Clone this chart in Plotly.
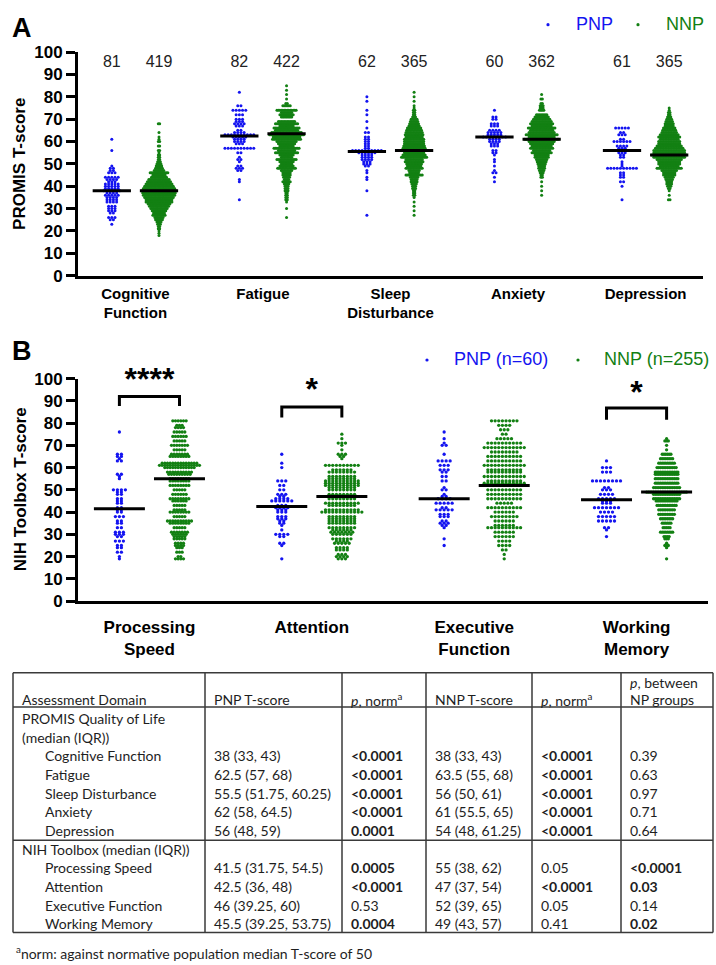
import plotly.graph_objects as go

W, H = 716, 965
FONT = "Liberation Sans, Arial, sans-serif"
TFONT = "Lato, Carlito, Calibri, sans-serif"
BLUE = "#1414f0"
GREEN = "#138013"

# ---------------- Panel A : PROMIS ----------------
promis_domains = ["Cognitive<br>Function", "Fatigue", "Sleep<br>Disturbance", "Anxiety", "Depression"]
promis_n_pnp = [81, 82, 62, 60, 61]
promis_n_nnp = [419, 422, 365, 362, 365]
promis_median_pnp = [38, 62.5, 55.5, 62, 56]
promis_median_nnp = [38, 63.5, 56, 61, 54]

# (T-score, number of participants)
cog_pnp = [(61,1),(56,1),(49,1),(48,2),(47,2),(46,3),(44,5),(43,4),(42,3),(41,5),(40,5),(39,5),(38,6),(37,4),
           (36,5),(35,4),(34,4),(33,4),(31,3),(30,3),(29,3),(28,2),(26,3),(25,2),(23,1)]
cog_nnp = [(68,2),(64,1),(62,1),(61,1),(60,2),(58,2),(56,2),(55,1),(54,2),(53,2),(52,2),(51,3),(50,4),(49,5),
           (48,6),(47,8),(46,14),(45,10),(44,12),(43,16),(42,18),(41,20),(40,22),(39,24),(38,26),(37,25),(36,24),
           (35,22),(34,20),(33,20),(32,17),(31,15),(30,13),(29,11),(28,9),(27,10),(26,7),(25,6),(24,4),(23,3),
           (22,2),(21,2),(20,1),(19,1),(18,1)]
fat_pnp = [(82,1),(76,2),(74,5),(72,3),(70,3),(69,3),(68,4),(67,3),(65,2),(64,4),(63,10),(62,5),(61,4),(60,4),
           (59,3),(57,10),(55,2),(53,1),(52,2),(51,1),(49,2),(48,3),(47,2),(43,1),(42,1),(34,1)]
fat_nnp = [(85,1),(83,1),(81,1),(79,1),(77,2),(76,6),(74,14),(73,8),(72,10),(71,8),(69,12),(68,16),(67,10),
           (66,18),(65,16),(64,21),(63,24),(62,19),(61,20),(60,14),(59,12),(58,10),(57,18),(56,12),(55,16),
           (54,10),(53,8),(52,14),(51,10),(50,8),(49,10),(48,13),(47,8),(46,6),(45,6),(44,5),(43,4),(42,6),
           (41,4),(40,3),(39,3),(38,3),(37,2),(36,2),(35,2),(34,2),(33,1),(30,1),(26,1)]
slp_pnp = [(80,1),(78,1),(74,1),(72,1),(69,1),(66,1),(64,2),(62,2),(61,2),(60,2),(59,2),(58,2),(57,2),(56,10),
           (55,6),(54,4),(53,4),(52,4),(51,3),(50,3),(49,2),(47,1),(46,1),(44,1),(43,1),(38,1),(27,1)]
slp_nnp = [(82,1),(80,1),(78,1),(76,1),(75,1),(74,2),(73,2),(72,2),(71,3),(70,5),(69,6),(68,7),(67,8),(66,10),
           (65,11),(64,12),(63,13),(62,12),(61,14),(60,14),(59,14),(58,15),(57,16),(56,24),(55,14),(54,16),
           (53,18),(52,12),(51,13),(50,11),(49,10),(48,12),(47,8),(46,7),(45,12),(44,6),(43,5),(42,5),(41,4),
           (40,3),(39,3),(38,2),(37,2),(36,2),(35,1),(33,1),(31,1),(29,1),(27,1)]
anx_pnp = [(74,1),(71,2),(70,2),(68,3),(67,3),(65,4),(64,5),(63,5),(62,8),(61,4),(60,4),(59,3),(58,3),(56,2),
           (55,2),(54,1),(52,1),(51,1),(49,1),(47,1),(46,2),(44,1),(42,1)]
anx_nnp = [(81,1),(79,2),(77,2),(76,3),(75,3),(74,4),(72,8),(71,10),(70,12),(69,14),(68,16),(67,14),(66,19),
           (65,16),(64,18),(63,22),(62,18),(61,24),(60,18),(59,16),(58,14),(57,16),(56,12),(55,14),(54,10),
           (53,10),(52,8),(51,7),(50,6),(49,5),(48,5),(47,4),(46,3),(45,2),(44,2),(42,1),(40,1),(38,1),(36,1)]
dep_pnp = [(66,5),(64,2),(63,3),(61,2),(60,6),(58,4),(57,3),(56,6),(55,3),(54,2),(53,2),(51,1),(50,1),(49,1),
           (48,10),(46,2),(45,2),(44,2),(42,2),(40,1),(34,1)]
dep_nnp = [(75,1),(74,1),(73,2),(72,2),(71,3),(70,4),(69,5),(68,6),(67,6),(66,8),(65,9),(64,10),(63,12),(62,14),
           (61,12),(60,14),(59,14),(58,16),(57,18),(56,20),(55,20),(54,22),(53,20),(52,16),(51,14),(50,14),
           (49,12),(48,16),(47,10),(46,8),(45,8),(44,6),(43,5),(42,4),(41,4),(40,3),(39,2),(38,1),(36,1),(34,2)]
promis_pnp = [cog_pnp, fat_pnp, slp_pnp, anx_pnp, dep_pnp]
promis_nnp = [cog_nnp, fat_nnp, slp_nnp, anx_nnp, dep_nnp]

# ---------------- Panel B : NIH Toolbox ----------------
nih_domains = ["Processing<br>Speed", "Attention", "Executive<br>Function", "Working<br>Memory"]
nih_median_pnp = [41.5, 42.5, 46, 45.5]
nih_median_nnp = [55, 47, 52, 49]
nih_sig = ["****", "*", "", "*"]
nih_bracket_top = [92, 87.2, None, 86.8]
nih_bracket_leg = [87.7, 82.5, None, 81.5]
nih_star_y = [98.5, 93.8, None, 92.5]

ps_pnp = [(76,1),(66,2),(65,2),(64,1),(63,2),(57,2),(56,1),(55,1),(50,4),(49,2),(48,2),(46,2),(45,2),(44,2),
          (42,2),(41,2),(40,2),(38,3),(36,2),(35,2),(33,2),(31,3),(30,3),(29,2),(27,3),(25,2),(24,2),(22,2),
          (20,1),(19,1)]
ps_nnp = [(81,6),(79,3),(78,4),(76,5),(74,6),(72,5),(70,7),(68,5),(66,7),(65,8),(62,14),(61,16),(60,12),(58,10),
          (57,9),(55,8),(54,8),(52,8),(50,5),(48,6),(46,8),(45,6),(43,5),(41,5),(40,8),(38,5),(36,10),(35,8),
          (33,5),(31,7),(30,6),(29,5),(28,5),(26,4),(25,4),(24,3),(22,3),(20,2),(19,4)]
att_pnp = [(66,1),(62,1),(60,1),(54,3),(52,2),(50,2),(48,3),(47,2),(46,4),(45,6),(43,3),(42,4),(41,3),(40,3),
           (38,3),(37,3),(36,2),(35,2),(34,1),(32,1),(30,4),(29,2),(26,2),(25,1),(19,1)]
att_nnp = [(75,1),(73,1),(71,3),(70,1),(68,1),(66,3),(65,2),(64,1),(61,10),(59,6),(58,8),(56,8),(55,8),(54,10),
           (53,10),(52,10),(51,8),(50,8),(48,8),(47,8),(46,8),(44,10),(43,8),(41,10),(40,12),(38,8),(37,8),
           (36,8),(35,8),(33,8),(32,6),(31,7),(30,6),(28,6),(27,4),(26,5),(24,4),(23,4),(21,3),(20,4),(19,3)]
exe_pnp = [(76,1),(73,1),(71,1),(70,2),(66,1),(63,4),(61,3),(59,3),(58,2),(56,2),(54,2),(51,1),(50,2),(48,1),
           (47,2),(46,4),(44,5),(42,2),(41,5),(39,3),(38,3),(36,2),(35,3),(34,2),(33,1),(28,1),(25,1)]
exe_nnp = [(81,8),(79,4),(77,3),(75,2),(73,5),(71,10),(69,12),(67,8),(65,10),(63,10),(61,12),(59,10),(58,10),
           (56,12),(54,10),(53,12),(52,12),(50,10),(48,10),(46,10),(44,5),(42,10),(40,6),(38,8),(36,6),(34,6),
           (33,10),(31,6),(29,6),(27,4),(25,4),(23,2),(21,1),(19,1)]
wm_pnp = [(63,1),(60,3),(58,3),(54,8),(51,2),(50,3),(48,4),(46,5),(45,3),(44,3),(42,7),(40,4),(38,5),(36,5),
          (33,2),(32,1),(29,1)]
wm_nnp = [(73,1),(72,3),(70,1),(68,1),(66,6),(64,8),(62,10),(60,12),(58,14),(57,14),(55,14),(53,14),(51,16),
          (49,24),(48,16),(46,16),(45,13),(43,12),(41,10),(39,10),(37,8),(35,6),(33,5),(31,8),(29,4),(28,3),
          (26,1),(25,3),(24,1),(19,1)]
nih_pnp = [ps_pnp, att_pnp, exe_pnp, wm_pnp]
nih_nnp = [ps_nnp, att_nnp, exe_nnp, wm_nnp]

# ---------------- Table ----------------
table_header = ["Assessment Domain", "PNP T-score", "<i>p</i>, norm<sup>a</sup>", "NNP T-score",
                "<i>p</i>, norm<sup>a</sup>", "<i>p</i>, between<br>NP groups"]
promis_section = "PROMIS Quality of Life<br>(median (IQR))"
promis_rows = ["Cognitive Function", "Fatigue", "Sleep Disturbance", "Anxiety", "Depression"]
promis_pnp_iqr = ["38 (33, 43)", "62.5 (57, 68)", "55.5 (51.75, 60.25)", "62 (58, 64.5)", "56 (48, 59)"]
promis_p_norm_pnp = ["<0.0001", "<0.0001", "<0.0001", "<0.0001", "0.0001"]
promis_nnp_iqr = ["38 (33, 43)", "63.5 (55, 68)", "56 (50, 61)", "61 (55.5, 65)", "54 (48, 61.25)"]
promis_p_norm_nnp = ["<0.0001", "<0.0001", "<0.0001", "<0.0001", "<0.0001"]
promis_p_between = ["0.39", "0.63", "0.97", "0.71", "0.64"]
nih_section = "NIH Toolbox (median (IQR))"
nih_rows = ["Processing Speed", "Attention", "Executive Function", "Working Memory"]
nih_pnp_iqr = ["41.5 (31.75, 54.5)", "42.5 (36, 48)", "46 (39.25, 60)", "45.5 (39.25, 53.75)"]
nih_p_norm_pnp = ["0.0005", "<0.0001", "0.53", "0.0004"]
nih_nnp_iqr = ["55 (38, 62)", "47 (37, 54)", "52 (39, 65)", "49 (43, 57)"]
nih_p_norm_nnp = ["0.05", "<0.0001", "0.05", "0.41"]
nih_p_between = ["<0.0001", "0.03", "0.14", "0.02"]
footnote = "<sup>a</sup>norm: against normative population median T-score of 50"


def px(x):
    return x / W


def py(y):
    return 1 - y / H


def swarm(center, dist, step, maxw):
    maxn = max(c for _, c in dist)
    d = step if maxn <= 1 else min(step, maxw / (maxn - 1))
    xs, ys = [], []
    for s, c in dist:
        for i in range(c):
            xs.append(center + (i - (c - 1) / 2) * d)
            ys.append(s)
    return xs, ys


fig = go.Figure()
OFF = 0.185

# ---- Panel A traces
A_PPU = (703 - 78) / (5.45 - 0.55)
for dists, sign, color, maxw in [(promis_pnp, -1, BLUE, 40), (promis_nnp, 1, GREEN, 34)]:
    X, Y = [], []
    for k, dist in enumerate(dists):
        xs, ys = swarm(k + 1 + sign * OFF, dist, 3.2 / A_PPU, maxw / A_PPU)
        X += xs
        Y += ys
    fig.add_trace(go.Scatter(x=X, y=Y, mode="markers", xaxis="x", yaxis="y",
                             marker=dict(size=3, color=color, line=dict(width=0)), hoverinfo="skip"))
for k in range(5):
    for sign, med in [(-1, promis_median_pnp[k]), (1, promis_median_nnp[k])]:
        c = k + 1 + sign * OFF
        fig.add_trace(go.Scatter(x=[c - 0.15, c + 0.15], y=[med, med], mode="lines", xaxis="x", yaxis="y",
                                 line=dict(color="black", width=3), hoverinfo="skip"))
fig.add_trace(go.Scatter(
    x=[k + 1 - OFF for k in range(5)] + [k + 1 + OFF for k in range(5)], y=[95] * 10,
    text=[str(n) for n in promis_n_pnp + promis_n_nnp], mode="text", xaxis="x", yaxis="y",
    textfont=dict(family=FONT, size=16, color="#222"), cliponaxis=False, hoverinfo="skip"))

# ---- Panel B traces
B_PPU = (708 - 78) / (4.44 - 0.56)
for dists, sign, color in [(nih_pnp, -1, BLUE), (nih_nnp, 1, GREEN)]:
    X, Y = [], []
    for k, dist in enumerate(dists):
        xs, ys = swarm(k + 1 + sign * OFF, dist, 4.0 / B_PPU, 40 / B_PPU)
        X += xs
        Y += ys
    fig.add_trace(go.Scatter(x=X, y=Y, mode="markers", xaxis="x2", yaxis="y2",
                             marker=dict(size=3.3, color=color, line=dict(width=0)), hoverinfo="skip"))
for k in range(4):
    for sign, med in [(-1, nih_median_pnp[k]), (1, nih_median_nnp[k])]:
        c = k + 1 + sign * OFF
        fig.add_trace(go.Scatter(x=[c - 0.157, c + 0.157], y=[med, med], mode="lines", xaxis="x2", yaxis="y2",
                                 line=dict(color="black", width=3), hoverinfo="skip"))
    if nih_sig[k]:
        a, b = k + 1 - OFF, k + 1 + OFF
        fig.add_trace(go.Scatter(x=[a, a, b, b],
                                 y=[nih_bracket_leg[k], nih_bracket_top[k], nih_bracket_top[k], nih_bracket_leg[k]],
                                 mode="lines", xaxis="x2", yaxis="y2", line=dict(color="black", width=3),
                                 cliponaxis=False, hoverinfo="skip"))
        fig.add_trace(go.Scatter(x=[k + 1], y=[nih_star_y[k]], text=[nih_sig[k]], mode="text",
                                 xaxis="x2", yaxis="y2", cliponaxis=False, hoverinfo="skip",
                                 textfont=dict(family=FONT, size=32, color="black", weight="bold")))

axis_common = dict(showline=True, linecolor="black", linewidth=3, showgrid=False, zeroline=False,
                   fixedrange=True)
fig.update_layout(
    width=W, height=H, autosize=False, margin=dict(l=0, r=0, t=0, b=0),
    paper_bgcolor="white", plot_bgcolor="white", showlegend=False,
    xaxis=dict(domain=[px(78), px(703)], range=[0.55, 5.45], anchor="y", tickvals=[1, 2, 3, 4, 5],
               ticktext=promis_domains, ticks="", ticklabelstandoff=2,
               tickfont=dict(family=FONT, size=15, color="black", weight="bold"), **axis_common),
    yaxis=dict(domain=[py(272), py(44)], range=[0, 100], anchor="x", tickvals=list(range(0, 101, 10)),
               ticks="outside", ticklen=9, tickwidth=3, tickcolor="black",
               tickfont=dict(family=FONT, size=17, color="black", weight="bold"), **axis_common),
    xaxis2=dict(domain=[px(78), px(708)], range=[0.56, 4.44], anchor="y2", tickvals=[1, 2, 3, 4],
                ticktext=nih_domains, ticks="", ticklabelstandoff=8,
                tickfont=dict(family=FONT, size=17, color="black", weight="bold"), **axis_common),
    yaxis2=dict(domain=[py(604), py(377)], range=[0, 100], anchor="x2", tickvals=list(range(0, 101, 10)),
                ticks="outside", ticklen=9, tickwidth=3, tickcolor="black",
                tickfont=dict(family=FONT, size=17, color="black", weight="bold"), **axis_common),
)

ann = []
shapes = []


def text(x, y, s, size, color="black", family=FONT, bold=False, xanchor="left", angle=0):
    ann.append(dict(x=px(x), y=py(y), xref="paper", yref="paper", text=s, showarrow=False,
                    xanchor=xanchor, yanchor="middle", textangle=angle, align="left",
                    font=dict(family=family, size=size, color=color, weight="bold" if bold else "normal")))


def dot(x, y, color, r=1.6):
    shapes.append(dict(type="circle", xref="paper", yref="paper", x0=px(x - r), x1=px(x + r),
                       y0=py(y + r), y1=py(y - r), fillcolor=color, line=dict(width=0)))


# panel letters and axis titles
text(22, 19, "A", 27, bold=True, xanchor="center")
text(22, 349, "B", 27, bold=True, xanchor="center")
text(20, 158, "PROMIS T-score", 17, bold=True, xanchor="center", angle=-90)
text(20, 490, "NIH Toolbox T-score", 17, bold=True, xanchor="center", angle=-90)

# legends
dot(548, 16, BLUE)
text(574, 15, "PNP", 18, color=BLUE)
dot(638, 16, GREEN)
text(664, 15, "NNP", 18, color=GREEN)
dot(427, 358, BLUE)
text(452, 357, "PNP (n=60)", 18, color=BLUE)
dot(578, 358, GREEN)
text(602, 357, "NNP (n=255)", 18, color=GREEN)

# table grid
col_x = [13, 205, 342, 426, 532, 621, 713]
t_top, t_head, t_div, t_bot = 677, 712, 848, 942
LC = "#3a3a3a"
for yy in [t_top, t_head, t_div, t_bot]:
    shapes.append(dict(type="line", xref="paper", yref="paper", x0=px(col_x[0]), x1=px(col_x[-1]),
                       y0=py(yy), y1=py(yy), line=dict(color=LC, width=1.5)))
for xx in col_x:
    shapes.append(dict(type="line", xref="paper", yref="paper", x0=px(xx), x1=px(xx),
                       y0=py(t_top), y1=py(t_bot), line=dict(color=LC, width=1.5)))

TS = 14
TC = "#1e1e1e"
PAD = 7
SH = -1.5  # vertical correction for the table font box


def pfmt(s):
    v = float(s.lstrip("<"))
    s2 = s.replace("<", "&lt;")
    return "<b>" + s2 + "</b>" if v < 0.05 else s2


# header: last line of each header cell sits on y=706
for j, h in enumerate(table_header):
    lines = h.split("<br>")
    for li, line in enumerate(lines):
        yy = 706 - (len(lines) - 1 - li) * 17
        text(col_x[j] + PAD, yy + SH, line, TS, color=TC, family=TFONT)

ROW0, DR = 725.5 + SH, 19
r = 0
for line in promis_section.split("<br>"):
    text(col_x[0] + PAD, ROW0 + r * DR, line, TS, color=TC, family=TFONT)
    r += 1
for i, name in enumerate(promis_rows):
    y = ROW0 + r * DR
    vals = [promis_pnp_iqr[i], pfmt(promis_p_norm_pnp[i]), promis_nnp_iqr[i],
            pfmt(promis_p_norm_nnp[i]), pfmt(promis_p_between[i])]
    text(col_x[0] + PAD + 23, y, name, TS, color=TC, family=TFONT)
    for j, v in enumerate(vals):
        text(col_x[j + 1] + PAD, y, v, TS, color=TC, family=TFONT)
    r += 1
text(col_x[0] + PAD, ROW0 + r * DR, nih_section, TS, color=TC, family=TFONT)
r += 1
for i, name in enumerate(nih_rows):
    y = ROW0 + r * DR
    vals = [nih_pnp_iqr[i], pfmt(nih_p_norm_pnp[i]), nih_nnp_iqr[i],
            pfmt(nih_p_norm_nnp[i]), pfmt(nih_p_between[i])]
    text(col_x[0] + PAD + 23, y, name, TS, color=TC, family=TFONT)
    for j, v in enumerate(vals):
        text(col_x[j + 1] + PAD, y, v, TS, color=TC, family=TFONT)
    r += 1
text(14, 962, footnote, TS, color=TC, family=TFONT)

fig.update_layout(annotations=ann, shapes=shapes)
fig.write_html("out.html")
